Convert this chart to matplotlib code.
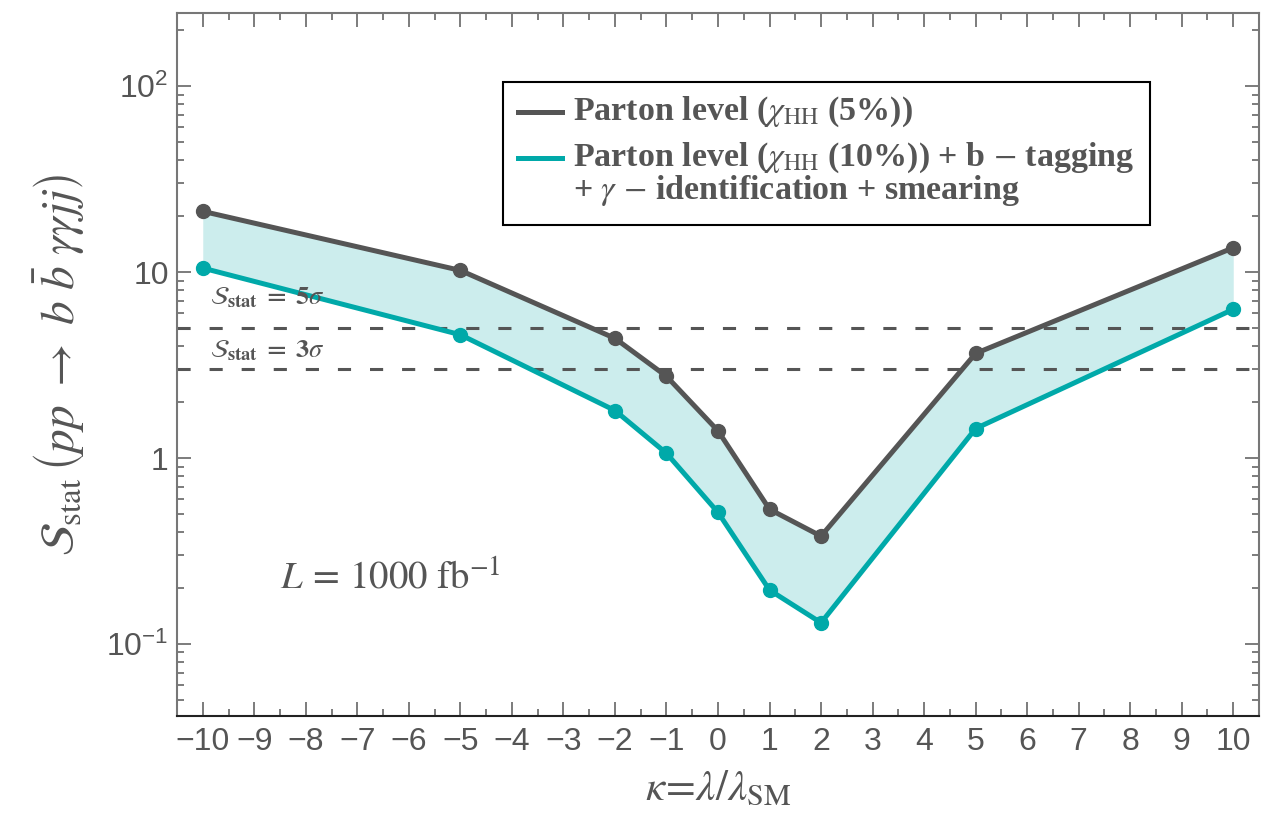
import matplotlib
matplotlib.use("Agg")
import matplotlib.pyplot as plt
from matplotlib.lines import Line2D
from matplotlib.patches import Rectangle
from matplotlib.ticker import FixedLocator, FixedFormatter, LogLocator, NullFormatter, MultipleLocator

plt.rcParams['mathtext.fontset'] = 'stix'

# ---- data ----
kappa = [-10, -5, -2, -1, 0, 1, 2, 5, 10]
parton = [21.2, 10.2, 4.4, 2.75, 1.40, 0.53, 0.38, 3.65, 13.5]
smeared = [10.5, 4.6, 1.80, 1.06, 0.51, 0.195, 0.130, 1.44, 6.3]
thresholds = [5, 3]
threshold_labels = [r"$\mathcal{S}_{\mathbf{stat}}\;\mathbf{=\;5}\sigma$",
                    r"$\mathcal{S}_{\mathbf{stat}}\;\mathbf{=\;3}\sigma$"]
xticks = list(range(-10, 11))
xticklabels = [("\u2212%d" % abs(v)) if v < 0 else "%d" % v for v in xticks]
yticks = [0.1, 1, 10, 100]
yticklabels = [r"$\mathregular{10^{-1}}$", "1", "10", r"$\mathregular{10^{2}}$"]
legend_labels = [r"Parton level ($\chi_{\mathrm{HH}}$ (5%))",
                 r"Parton level ($\chi_{\mathrm{HH}}$ (10%)) + b $-$ tagging",
                 r"+ $\gamma$ $-$ identification + smearing"]

DARK = '#555555'
TEAL = '#00A9A9'
FILL = '#CCEDED'
TXT = '#555555'

fig = plt.figure(figsize=(12.78, 8.16), dpi=100)
ax = fig.add_axes([177/1278, 1 - 716/816, 1082/1278, 703/816])

ax.set_yscale('log')
ax.set_xlim(-10.5, 10.5)
ax.set_ylim(0.041, 247)

ax.fill_between(kappa, smeared, parton, color=FILL, lw=0, zorder=1)
for yv in thresholds:
    ax.axhline(yv, color=DARK, lw=2.2, dashes=(4.3, 6.2), zorder=2)
ax.plot(kappa, parton, color=DARK, lw=3.6, marker='o', ms=10, zorder=4)
ax.plot(kappa, smeared, color=TEAL, lw=3.6, marker='o', ms=10, zorder=3)

# threshold labels
ax.text(-9.85, 7.3, threshold_labels[0], fontsize=19, color=TXT, ha='left', va='center')
ax.text(-9.85, 3.8, threshold_labels[1], fontsize=19, color=TXT, ha='left', va='center')

# luminosity text
ax.text(-8.5, 0.226, r"$L\,=\,1000\ \mathrm{fb}^{-1}$", fontsize=28, color=TXT,
        ha='left', va='center')

# ticks
ax.xaxis.set_major_locator(FixedLocator(xticks))
ax.xaxis.set_major_formatter(FixedFormatter(xticklabels))
ax.xaxis.set_minor_locator(MultipleLocator(0.5))
ax.yaxis.set_major_locator(FixedLocator(yticks))
ax.yaxis.set_major_formatter(FixedFormatter(yticklabels))
ax.yaxis.set_minor_locator(LogLocator(base=10, subs=range(2, 10), numticks=20))
ax.yaxis.set_minor_formatter(NullFormatter())

ax.tick_params(which='both', direction='in', top=True, right=True, colors='#666666',
               labelcolor=TXT, labelsize=23)
ax.tick_params(which='major', length=10, width=1.2)
ax.tick_params(which='minor', length=5, width=1.2)
ax.tick_params(axis='x', pad=8)
ax.tick_params(axis='y', pad=6)
for lab in ax.get_xticklabels() + ax.get_yticklabels():
    lab.set_family('Liberation Sans')

for s in ['left', 'top', 'right']:
    ax.spines[s].set_color('#777777')
    ax.spines[s].set_linewidth(1.5)
ax.spines['bottom'].set_color('#222222')
ax.spines['bottom'].set_linewidth(1.5)

ax.set_xlabel(r"$\kappa\!=\!\lambda/\lambda_{\mathrm{SM}}$", fontsize=31, color=TXT, labelpad=7)
ax.set_ylabel(r"$\mathcal{S}_{\mathrm{stat}}\,\left(pp\ \rightarrow\ b\ \bar{b}\ \gamma\gamma jj\right)$",
              fontsize=34, color=TXT, labelpad=14)

# legend (manual)
fx = lambda px: (px - 177) / 1082
fy = lambda py: (716 - py) / 703
ax.add_patch(Rectangle((fx(503), fy(225)), fx(1150) - fx(503), fy(82) - fy(225),
                       transform=ax.transAxes, fill=True, facecolor='white',
                       edgecolor='black', lw=1.5, zorder=10))
ax.add_line(Line2D([fx(518), fx(562)], [fy(112), fy(112)], transform=ax.transAxes,
                   color=DARK, lw=3.6, zorder=11))
ax.add_line(Line2D([fx(518), fx(562)], [fy(158), fy(158)], transform=ax.transAxes,
                   color=TEAL, lw=3.6, zorder=11))
for lab, py in zip(legend_labels, [112, 158, 191]):
    ax.text(fx(573), fy(py), lab, transform=ax.transAxes, fontsize=24.5,
            family='Liberation Serif', fontweight='bold', color=TXT,
            ha='left', va='center', zorder=12)

fig.savefig('out.png', dpi=100)
